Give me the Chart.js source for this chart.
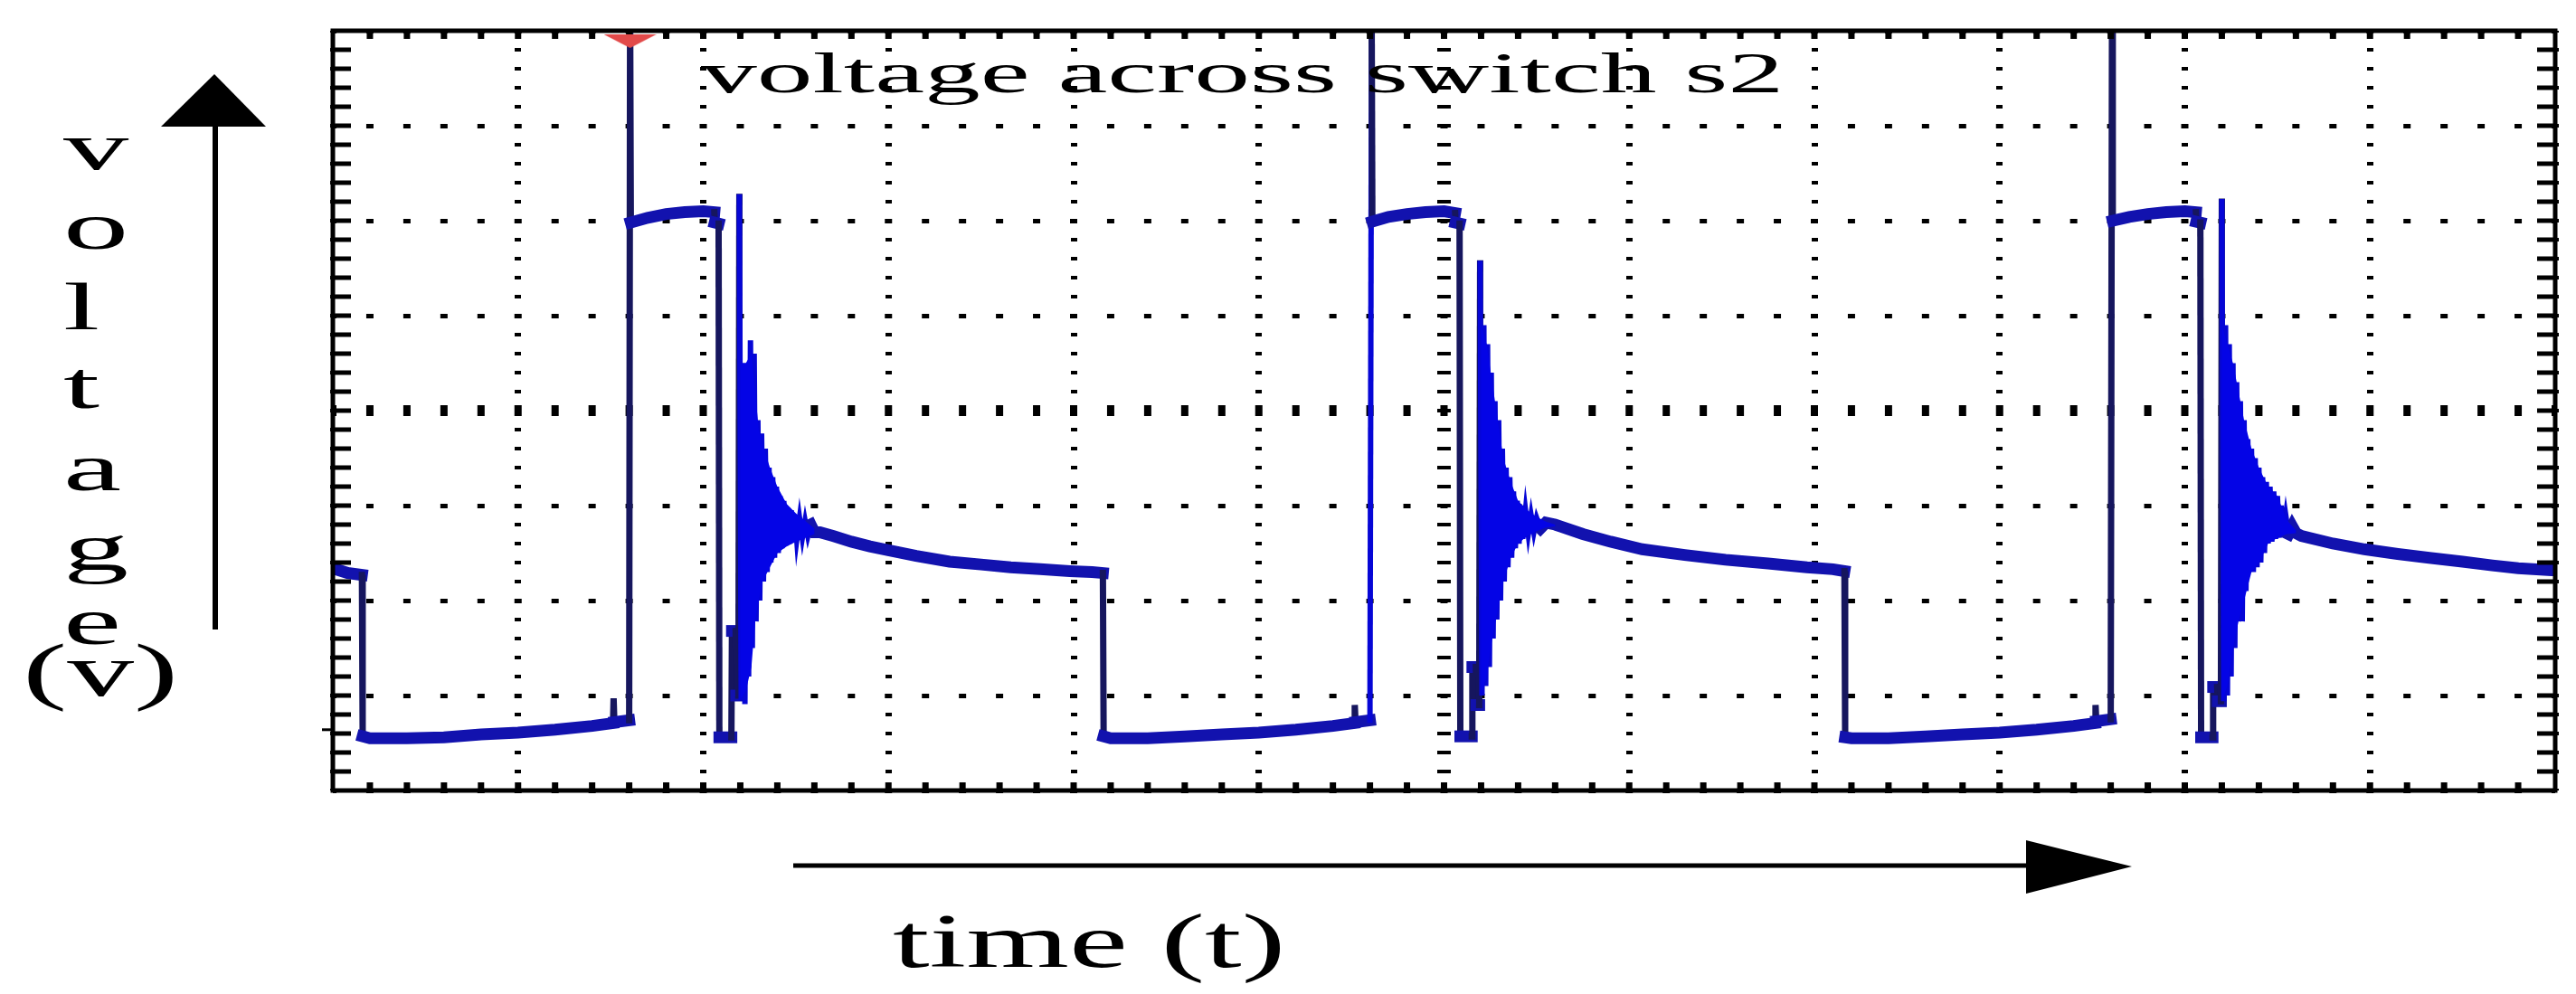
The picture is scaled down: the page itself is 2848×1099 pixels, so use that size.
<!DOCTYPE html>
<html>
<head>
<meta charset="utf-8">
<script src="https://cdn.jsdelivr.net/npm/chart.js@4.4.1/dist/chart.umd.min.js"></script>
<style>
html,body{margin:0;padding:0;background:#fff;width:2848px;height:1099px;overflow:hidden;}
#wrap{position:relative;width:2848px;height:1099px;}
#c{position:absolute;left:0;top:0;}
svg{position:absolute;left:0;top:0;}
.lbl{position:absolute;font-family:"Liberation Serif","Times New Roman",serif;color:#000;line-height:1;white-space:pre;transform-origin:0 0;}
</style>
</head>
<body>
<div id="wrap">
<canvas id="c" width="2848" height="1099"></canvas>
<svg width="2848" height="1099">
  <line x1="238" y1="136" x2="238" y2="696" stroke="#000" stroke-width="6"/>
  <polygon points="237,82 178,140 294,140" fill="#000"/>
  <line x1="877" y1="957" x2="2245" y2="957" stroke="#000" stroke-width="5"/>
  <polygon points="2240,929 2357,958 2240,988" fill="#000"/>
</svg>
<div class="lbl" style="left:775px;top:49px;font-size:64px;transform:scaleX(1.93);">voltage across switch s2</div>
<div class="lbl" style="left:70px;top:125px;font-size:74px;transform:scaleX(1.95);">v</div>
<div class="lbl" style="left:70px;top:213px;font-size:74px;transform:scaleX(1.95);">o</div>
<div class="lbl" style="left:70px;top:302px;font-size:74px;transform:scaleX(1.95);">l</div>
<div class="lbl" style="left:70px;top:389px;font-size:74px;transform:scaleX(1.95);">t</div>
<div class="lbl" style="left:70px;top:480px;font-size:74px;transform:scaleX(1.95);">a</div>
<div class="lbl" style="left:70px;top:568px;font-size:74px;transform:scaleX(1.95);">g</div>
<div class="lbl" style="left:70px;top:650px;font-size:74px;transform:scaleX(1.95);">e</div>
<div class="lbl" style="left:25px;top:701px;font-size:82px;transform:scaleX(1.8);">(v)</div>
<div class="lbl" style="left:987px;top:998px;font-size:85px;transform:scaleX(1.72);">time (t)</div>
</div>
<script>
// ---- data (x in time divisions, y in voltage divisions) ----
const t1 = [0, 0.08, 0.157, 0.161, 0.2, 0.4, 0.6, 0.8, 1.0, 1.2, 1.4, 1.513, 1.516, 1.52, 1.6, 1.605, 1.609, 1.7, 1.8, 1.9, 2.0, 2.06, 2.062, 2.083, 2.087, 2.152, 2.155, 2.175, 2.178, 2.19,
  2.195, 2.205, 2.215, 2.225, 2.235, 2.245, 2.255, 2.265, 2.275, 2.285, 2.295, 2.305, 2.315, 2.325, 2.335, 2.345, 2.355, 2.365, 2.375, 2.385, 2.395, 2.405, 2.415, 2.425, 2.435, 2.445, 2.455, 2.465, 2.475, 2.485, 2.495, 2.505, 2.52, 2.535, 2.55, 2.565, 2.58, 2.6,
  2.63, 2.7, 2.8, 2.9, 3.0, 3.15, 3.33, 3.5, 3.66, 3.82, 3.98, 4.1, 4.158];
const v1 = [2.34, 2.29, 2.27, 0.57, 0.55, 0.55, 0.56, 0.59, 0.61, 0.64, 0.68, 0.71, 0.97, 0.72, 0.74, 8.3, 5.98, 6.03, 6.07, 6.09, 6.1, 6.09, 5.98, 5.97, 0.56, 0.56, 1.68, 1.68, 1.0, 1.0,
  6.25, 0.95, 4.5, 0.91, 4.5, 1.2, 4.74, 1.5, 4.6, 1.78, 3.9, 2.0, 3.76, 2.2, 3.6, 2.3, 3.4, 2.4, 3.3, 2.45, 3.2, 2.5, 3.1, 2.55, 3.05, 2.58, 2.98, 2.6, 2.95, 2.62, 2.9, 2.64, 2.87, 2.66, 2.84, 2.68, 2.8, 2.72,
  2.72, 2.68, 2.62, 2.57, 2.53, 2.47, 2.41, 2.38, 2.35, 2.33, 2.31, 2.3, 2.29];

const t2 = [4.162, 4.2, 4.4, 4.6, 4.8, 5.0, 5.2, 5.4, 5.515, 5.518, 5.522, 5.6, 5.609, 5.613, 5.7, 5.8, 5.9, 6.0, 6.06, 6.062, 6.084, 6.088, 6.15, 6.153, 6.172, 6.175, 6.19,
  6.195, 6.205, 6.215, 6.225, 6.235, 6.245, 6.255, 6.265, 6.275, 6.285, 6.295, 6.305, 6.315, 6.325, 6.335, 6.345, 6.355, 6.365, 6.375, 6.385, 6.395, 6.405, 6.415, 6.425, 6.44, 6.455, 6.47, 6.485, 6.5, 6.52, 6.55, 6.6,
  6.63, 6.75, 6.9, 7.07, 7.3, 7.52, 7.75, 7.96, 8.1, 8.162];
const v2 = [0.57, 0.55, 0.55, 0.57, 0.59, 0.61, 0.64, 0.68, 0.71, 0.9, 0.72, 0.74, 8.3, 5.99, 6.04, 6.07, 6.09, 6.1, 6.08, 5.98, 5.97, 0.57, 0.57, 1.3, 1.3, 0.9, 0.9,
  5.55, 1.0, 4.9, 1.1, 4.7, 1.3, 4.4, 1.6, 4.1, 1.8, 3.9, 2.0, 3.6, 2.2, 3.4, 2.35, 3.3, 2.45, 3.15, 2.55, 3.05, 2.6, 3.0, 2.65, 2.95, 2.7, 2.9, 2.72, 2.87, 2.76, 2.82, 2.8,
  2.78, 2.7, 2.62, 2.54, 2.48, 2.43, 2.39, 2.35, 2.33, 2.31];

const t3 = [8.166, 8.2, 8.4, 8.6, 8.8, 9.0, 9.2, 9.4, 9.515, 9.518, 9.522, 9.6, 9.607, 9.611, 9.7, 9.8, 9.9, 10.0, 10.06, 10.062, 10.084, 10.088, 10.15, 10.153, 10.175, 10.178, 10.195,
  10.2, 10.21, 10.22, 10.23, 10.24, 10.25, 10.26, 10.27, 10.28, 10.29, 10.3, 10.31, 10.32, 10.33, 10.34, 10.35, 10.36, 10.37, 10.38, 10.39, 10.4, 10.41, 10.42, 10.43, 10.44, 10.45, 10.46, 10.47, 10.48, 10.49, 10.5, 10.51, 10.52, 10.53, 10.545, 10.56, 10.58, 10.6,
  10.63, 10.8, 10.97, 11.15, 11.32, 11.5, 11.66, 11.8, 11.98, 12.0];
const v3 = [0.56, 0.55, 0.55, 0.57, 0.59, 0.61, 0.64, 0.68, 0.71, 0.9, 0.73, 0.75, 8.3, 6.0, 6.04, 6.07, 6.09, 6.1, 6.09, 5.99, 5.98, 0.56, 0.56, 1.09, 1.09, 0.94, 0.94,
  6.2, 0.94, 4.9, 1.0, 4.7, 1.2, 4.5, 1.5, 4.3, 1.78, 4.1, 1.78, 3.9, 2.1, 3.7, 2.3, 3.6, 2.3, 3.5, 2.35, 3.4, 2.4, 3.3, 2.5, 3.25, 2.6, 3.2, 2.62, 3.15, 2.65, 3.1, 2.66, 3.0, 2.68, 2.9, 2.7, 2.78, 2.71,
  2.68, 2.6, 2.54, 2.49, 2.45, 2.41, 2.37, 2.34, 2.32, 2.32];

// envelopes of the dense ringing bursts (filled band)
const ringX1 = [2.2, 2.23, 2.26, 2.28, 2.3, 2.32, 2.36, 2.4, 2.45, 2.5, 2.55, 2.6];
const ringHi1 = [4.5, 4.5, 4.6, 4.2, 3.8, 3.65, 3.4, 3.2, 3.02, 2.92, 2.84, 2.76];
const ringLo1 = [0.95, 1.05, 1.3, 1.78, 2.0, 2.2, 2.35, 2.5, 2.57, 2.62, 2.66, 2.7];
const ringX2 = [6.2, 6.23, 6.26, 6.29, 6.32, 6.36, 6.4, 6.45, 6.5, 6.55, 6.6];
const ringHi2 = [4.9, 4.7, 4.3, 3.9, 3.5, 3.25, 3.05, 2.95, 2.88, 2.83, 2.8];
const ringLo2 = [1.0, 1.2, 1.6, 1.9, 2.2, 2.45, 2.6, 2.68, 2.73, 2.77, 2.78];
const ringX3 = [10.2, 10.23, 10.26, 10.29, 10.32, 10.36, 10.4, 10.45, 10.5, 10.55, 10.6];
const ringHi3 = [4.9, 4.7, 4.5, 4.2, 3.9, 3.6, 3.4, 3.2, 3.1, 2.85, 2.74];
const ringLo3 = [0.94, 1.1, 1.5, 1.78, 2.0, 2.3, 2.4, 2.6, 2.66, 2.7, 2.71];

const triggerTime = [1.605];
const triggerLevel = [7.89];
const groundMarkLevel = 0.64;
const timeMin = 0, timeMax = 12, timeDivs = 12;
const voltMin = 0, voltMax = 8, voltDivs = 8;
const minorPerDiv = 5;

// ---- build chart ----
function pts(t, v) { return t.map((x, i) => ({x: x, y: v[i]})); }
const wave = pts(t1, v1).concat(pts(t2, v2), pts(t3, v3));
const marker = pts(triggerTime, triggerLevel);
const ringBands = [[ringX1, ringHi1, ringLo1], [ringX2, ringHi2, ringLo2], [ringX3, ringHi3, ringLo3]];

const tri = document.createElement('canvas');
tri.width = 58; tri.height = 15;
(function () {
  const g = tri.getContext('2d');
  g.fillStyle = '#e24a4a';
  g.beginPath(); g.moveTo(0, 0); g.lineTo(58, 0); g.lineTo(29, 15); g.closePath(); g.fill();
})();

function segKind(c) {
  const dx = Math.abs(c.p1.x - c.p0.x), dy = Math.abs(c.p1.y - c.p0.y);
  if (dx < 1.6) return 0;
  if (dy > 2.5 * dx) return 1;
  return 2;
}

const scopeFrame = {
  id: 'scopeFrame',
  afterDatasetDraw(chart, args) {
    if (args.index !== 0) return;
    const ctx = chart.ctx, a = chart.chartArea, xs = chart.scales.x, ys = chart.scales.y;
    ctx.save();
    // dense ringing band
    ctx.fillStyle = '#0404e6';
    for (const [bx, hi, lo] of ringBands) {
      ctx.beginPath();
      for (let i = 0; i < bx.length; i++) {
        const px = xs.getPixelForValue(bx[i]), py = ys.getPixelForValue(hi[i]);
        if (i === 0) ctx.moveTo(px, py); else ctx.lineTo(px, py);
      }
      for (let i = bx.length - 1; i >= 0; i--) {
        ctx.lineTo(xs.getPixelForValue(bx[i]), ys.getPixelForValue(lo[i]));
      }
      ctx.closePath();
      ctx.fill();
    }
    ctx.fillStyle = '#000';
    const nx = timeDivs * minorPerDiv, ny = voltDivs * minorPerDiv;
    for (let k = 1; k < nx; k++) {
      const px = xs.getPixelForValue(timeMin + k * (timeMax - timeMin) / nx);
      ctx.fillRect(px - 3.5, a.top, 7, 9);
      ctx.fillRect(px - 3.5, a.bottom - 9, 7, 9);
    }
    for (let k = 1; k < ny; k++) {
      const py = ys.getPixelForValue(voltMin + k * (voltMax - voltMin) / ny);
      ctx.fillRect(a.left, py - 2.5, 20, 5);
      ctx.fillRect(a.right - 20, py - 2.5, 20, 5);
    }
    const gy = ys.getPixelForValue(groundMarkLevel);
    ctx.fillRect(a.left - 12, gy - 1.5, 12, 3);
    ctx.lineWidth = 5;
    ctx.strokeStyle = '#000';
    ctx.strokeRect(a.left, a.top, a.right - a.left, a.bottom - a.top);
    ctx.restore();
  }
};

new Chart(document.getElementById('c'), {
  type: 'line',
  data: {
    datasets: [
      {
        data: wave,
        order: 1,
        clip: 0,
        borderColor: '#1111b0',
        borderWidth: 11,
        borderCapStyle: 'square',
        borderJoinStyle: 'miter',
        pointRadius: 0,
        pointHoverRadius: 0,
        tension: 0,
        fill: false,
        segment: {
          borderColor: c => ['#16165e', '#0606d6', '#1212ae'][segKind(c)],
          borderWidth: c => [7, 6, 13][segKind(c)]
        }
      },
      {
        data: marker,
        order: 0,
        showLine: false,
        pointStyle: tri,
        pointRadius: 10,
        pointHoverRadius: 10
      }
    ]
  },
  options: {
    responsive: false,
    animation: false,
    events: [],
    devicePixelRatio: 1,
    layout: {autoPadding: false, padding: {left: 368, top: 34, right: 23, bottom: 225}},
    plugins: {legend: {display: false}, tooltip: {enabled: false}, title: {display: false}},
    scales: {
      x: {
        type: 'linear', min: timeMin, max: timeMax,
        ticks: {display: false, stepSize: (timeMax - timeMin) / timeDivs},
        grid: {
          drawTicks: false, color: '#000',
          lineWidth: c => (c.tick && c.tick.value === 6 ? 15 : 7)
        },
        border: {display: false, dash: [4, 17], dashOffset: 2}
      },
      y: {
        type: 'linear', min: voltMin, max: voltMax,
        ticks: {display: false, stepSize: (voltMax - voltMin) / voltDivs},
        grid: {
          drawTicks: false, color: '#000',
          lineWidth: c => (c.tick && c.tick.value === 4 ? 12 : 5)
        },
        border: {display: false, dash: [8, 32.95], dashOffset: 4}
      }
    }
  },
  plugins: [scopeFrame]
});
</script>
</body>
</html>
